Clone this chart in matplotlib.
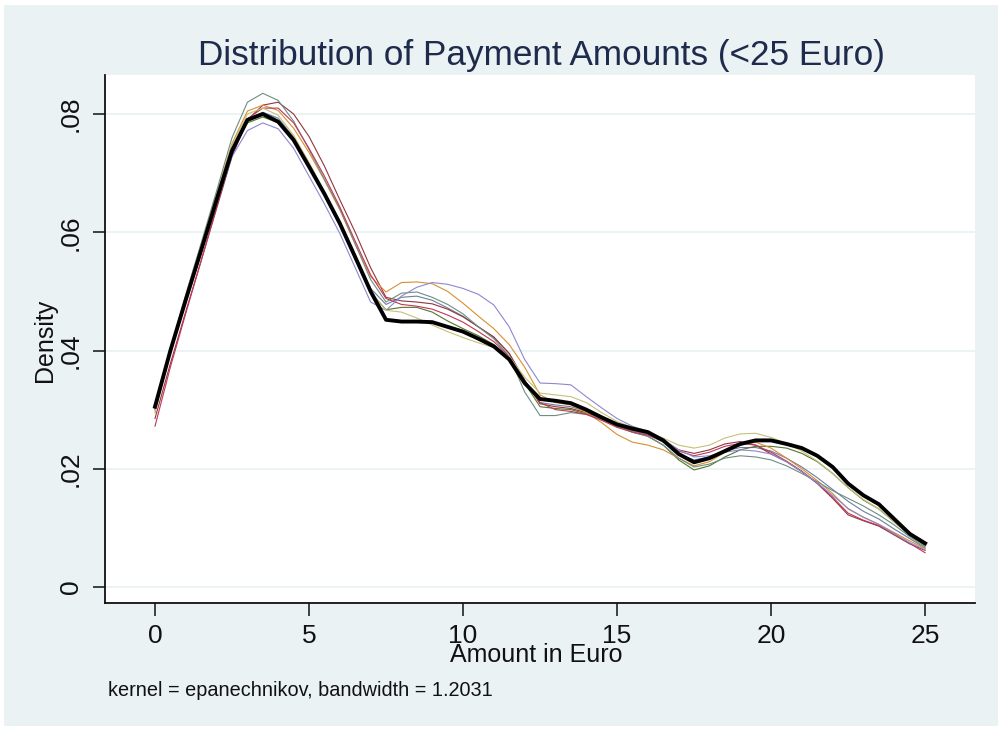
import matplotlib.pyplot as plt
from matplotlib.patches import Rectangle

# evaluation grid shared by all density estimates
amount = [0, 0.5, 1, 1.5, 2, 2.5, 3, 3.5, 4, 4.5, 5, 5.5, 6, 6.5, 7, 7.5, 8, 8.5, 9, 9.5,
          10, 10.5, 11, 11.5, 12, 12.5, 13, 13.5, 14, 14.5, 15, 15.5, 16, 16.5, 17, 17.5,
          18, 18.5, 19, 19.5, 20, 20.5, 21, 21.5, 22, 22.5, 23, 23.5, 24, 24.5, 25]

# pooled estimate (thick black)
dens_all = [.0305, .0400, .0486, .0570, .0655, .0738, .0790, .0800, .0787, .0756,
            .0711, .0665, .0615, .0558, .0500, .0452, .0449, .0449, .0448, .0440,
            .0432, .0420, .0407, .0385, .0345, .0318, .0315, .0311, .0300, .0287,
            .0275, .0268, .0262, .0248, .0225, .0211, .0218, .0230, .0242, .0248,
            .0248, .0242, .0235, .0222, .0203, .0175, .0155, .0140, .0115, .0090, .0074]

# individual subsample estimates
dens_teal = [.0300, .0402, .0495, .0582, .0670, .0760, .0820, .0835, .0823, .0788,
             .0740, .0690, .0640, .0580, .0520, .0482, .0497, .0499, .0490, .0478,
             .0462, .0440, .0420, .0390, .0330, .0290, .0290, .0295, .0292, .0283,
             .0272, .0262, .0255, .0240, .0218, .0203, .0208, .0218, .0222, .0220,
             .0215, .0205, .0192, .0178, .0163, .0150, .0137, .0122, .0105, .0085, .0068]

dens_maroon = [.0285, .0378, .0466, .0552, .0640, .0728, .0790, .0815, .0820, .0800,
               .0762, .0712, .0655, .0600, .0540, .0490, .0484, .0482, .0479, .0470,
               .0457, .0440, .0423, .0395, .0350, .0310, .0305, .0302, .0295, .0285,
               .0272, .0265, .0260, .0248, .0232, .0226, .0232, .0242, .0246, .0240,
               .0225, .0212, .0195, .0175, .0150, .0122, .0112, .0103, .0088, .0073, .0062]

dens_orange = [.0295, .0398, .0490, .0577, .0665, .0750, .0805, .0815, .0806, .0776,
               .0735, .0688, .0638, .0580, .0525, .0499, .0515, .0516, .0513, .0500,
               .0480, .0458, .0437, .0410, .0372, .0325, .0312, .0308, .0295, .0278,
               .0258, .0245, .0240, .0232, .0218, .0205, .0212, .0228, .0240, .0245,
               .0235, .0218, .0200, .0180, .0158, .0132, .0118, .0106, .0092, .0078, .0065]

dens_khaki = [.0298, .0400, .0492, .0578, .0662, .0748, .0800, .0810, .0798, .0764,
              .0718, .0668, .0615, .0555, .0500, .0468, .0465, .0455, .0443, .0432,
              .0422, .0413, .0405, .0390, .0355, .0328, .0325, .0322, .0312, .0295,
              .0280, .0270, .0262, .0252, .0240, .0235, .0240, .0252, .0259, .0260,
              .0253, .0243, .0230, .0213, .0192, .0168, .0148, .0132, .0110, .0090, .0072]

dens_lavender = [.0300, .0395, .0482, .0565, .0648, .0728, .0772, .0785, .0775, .0742,
                 .0695, .0648, .0598, .0540, .0482, .0468, .0492, .0507, .0515, .0512,
                 .0505, .0495, .0477, .0440, .0385, .0345, .0344, .0342, .0322, .0303,
                 .0285, .0272, .0263, .0250, .0232, .0220, .0222, .0228, .0232, .0230,
                 .0225, .0212, .0195, .0176, .0155, .0133, .0118, .0106, .0090, .0075, .0063]

dens_green = [.0305, .0400, .0487, .0571, .0655, .0737, .0785, .0795, .0785, .0754,
              .0710, .0662, .0612, .0555, .0498, .0469, .0473, .0473, .0465, .0450,
              .0437, .0425, .0410, .0388, .0345, .0305, .0302, .0300, .0293, .0283,
              .0272, .0262, .0255, .0240, .0215, .0198, .0205, .0220, .0232, .0238,
              .0238, .0235, .0226, .0212, .0192, .0168, .0147, .0132, .0110, .0088, .0070]

dens_navy = [.0302, .0399, .0488, .0573, .0658, .0742, .0792, .0803, .0793, .0761,
             .0717, .0668, .0618, .0560, .0505, .0478, .0490, .0492, .0485, .0472,
             .0458, .0440, .0422, .0395, .0350, .0312, .0308, .0305, .0297, .0285,
             .0272, .0264, .0258, .0245, .0225, .0215, .0220, .0230, .0236, .0236,
             .0230, .0218, .0203, .0185, .0165, .0145, .0128, .0115, .0098, .0082, .0066]

dens_cranberry = [.0272, .0372, .0463, .0552, .0643, .0732, .0792, .0810, .0810, .0785,
                  .0742, .0695, .0643, .0585, .0528, .0488, .0478, .0475, .0470, .0460,
                  .0448, .0432, .0415, .0390, .0348, .0312, .0300, .0297, .0292, .0282,
                  .0270, .0262, .0257, .0246, .0230, .0222, .0228, .0238, .0243, .0240,
                  .0228, .0213, .0196, .0176, .0152, .0125, .0113, .0104, .0090, .0074, .0058]

series = [
    (dens_navy, '#6c7fa0'),
    (dens_maroon, '#90353b'),
    (dens_green, '#55752f'),
    (dens_orange, '#d98f2e'),
    (dens_teal, '#6e8e84'),
    (dens_cranberry, '#c0365a'),
    (dens_lavender, '#8c88d0'),
    (dens_khaki, '#c8c07a'),
]

yticks = [0, 0.02, 0.04, 0.06, 0.08]
ytick_labels = ['0', '.02', '.04', '.06', '.08']
xticks = [0, 5, 10, 15, 20, 25]

plt.rcParams['font.family'] = ['Liberation Sans', 'DejaVu Sans']

fig = plt.figure(figsize=(10.03, 7.31), dpi=100)
fig.patch.set_facecolor('white')
# Stata-style graph region behind the plot region
fig.patches.append(Rectangle((4 / 1003, 5 / 731), 994 / 1003, 721 / 731,
                             transform=fig.transFigure, facecolor='#eaf2f3',
                             edgecolor='none', zorder=-5))

ax = fig.add_axes([105 / 1003, 1 - 603 / 731, 870 / 1003, 528 / 731])
ax.set_zorder(2)
ax.set_facecolor('white')

for yv in yticks:
    ax.axhline(yv, color='#eaf2f3', lw=1.3, zorder=1)

for dens, col in series:
    ax.plot(amount, dens, color=col, lw=0.8, zorder=2)
ax.plot(amount, dens_all, color='black', lw=2.8, zorder=3, solid_joinstyle='round')

ax.set_xlim(-1.623, 26.62)
ax.set_ylim(-0.0027, 0.0866)

ax.set_xticks(xticks)
ax.set_xticklabels([str(v) for v in xticks], fontsize=19, color='#111111')
ax.set_yticks(yticks)
ax.set_yticklabels(ytick_labels, fontsize=19, rotation=90, va='center', color='#111111')

ax.tick_params(axis='both', direction='out', length=9, width=1.1, color='#111111')
ax.tick_params(axis='x', pad=6)
ax.tick_params(axis='y', pad=7)

for side in ['top', 'right']:
    ax.spines[side].set_visible(False)
for side in ['left', 'bottom']:
    ax.spines[side].set_linewidth(1.3)
    ax.spines[side].set_color('#111111')

fig.text(541 / 1003, 1 - 56 / 731, 'Distribution of Payment Amounts (<25 Euro)',
         ha='center', va='center', fontsize=25.3, color='#1e2b4c')
fig.text(536 / 1003, 1 - 655 / 731, 'Amount in Euro', ha='center', va='center',
         fontsize=18, color='#111111')
fig.text(45 / 1003, 1 - 340 / 731, 'Density', ha='center', va='center',
         rotation=90, fontsize=18, color='#111111')
fig.text(108 / 1003, 1 - 690 / 731, 'kernel = epanechnikov, bandwidth = 1.2031',
         ha='left', va='center', fontsize=14.3, color='#111111')

fig.savefig('out.png', dpi=100, facecolor=fig.get_facecolor())
